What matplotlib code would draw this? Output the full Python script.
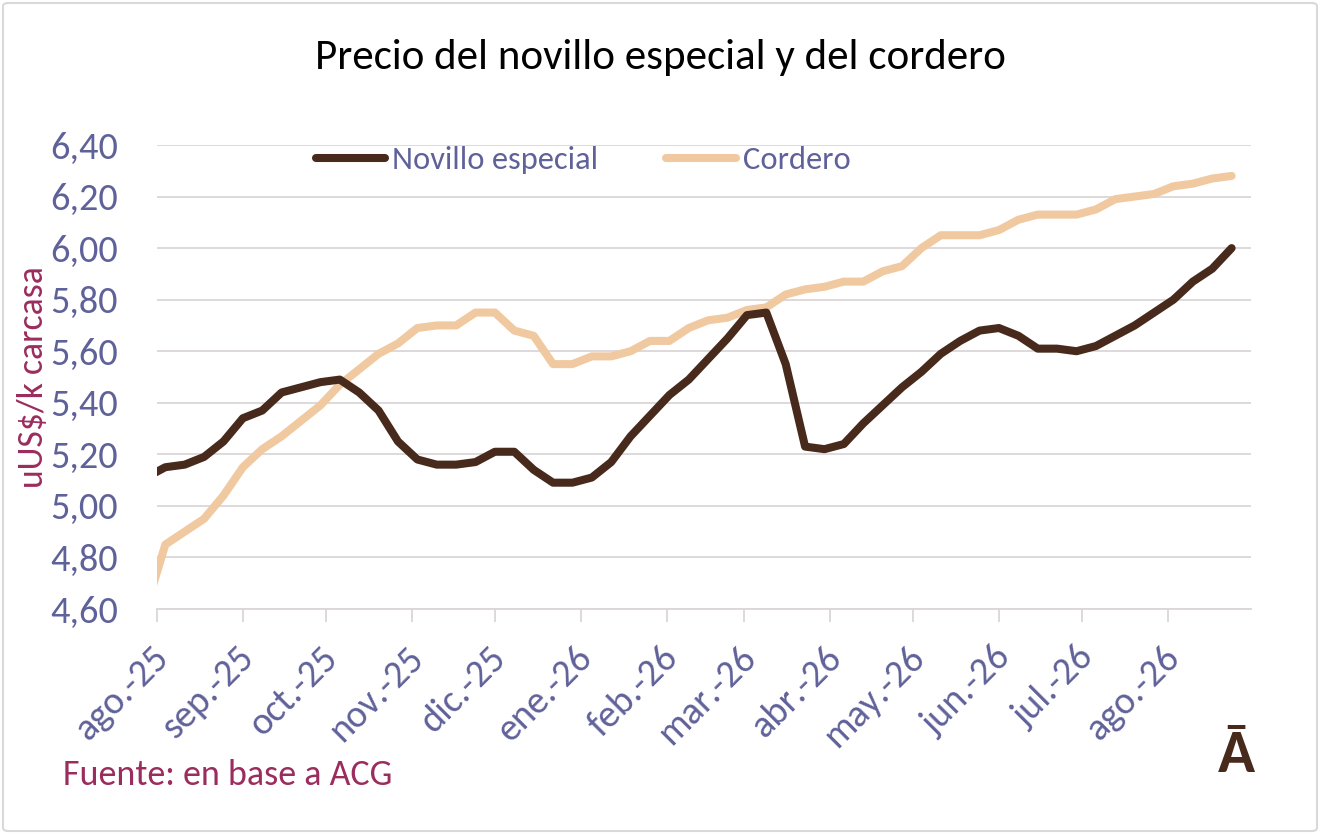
import matplotlib
matplotlib.use("Agg")
import matplotlib.pyplot as plt
from matplotlib import font_manager
from matplotlib.patches import FancyBboxPatch
from matplotlib.transforms import ScaledTranslation
import pandas as pd

# ---------------- data ----------------
title = "Precio del novillo especial y del cordero"
series_names = ["Novillo especial", "Cordero"]
week_start = "2025-07-28"
n_weeks = 57
novillo = [5.11, 5.15, 5.16, 5.19, 5.25, 5.34, 5.37, 5.44, 5.46, 5.48,
           5.49, 5.44, 5.37, 5.25, 5.18, 5.16, 5.16, 5.17, 5.21, 5.21,
           5.14, 5.09, 5.09, 5.11, 5.17, 5.27, 5.35, 5.43, 5.49, 5.57,
           5.65, 5.74, 5.75, 5.55, 5.23, 5.22, 5.24, 5.32, 5.39, 5.46,
           5.52, 5.59, 5.64, 5.68, 5.69, 5.66, 5.61, 5.61, 5.60, 5.62,
           5.66, 5.70, 5.75, 5.80, 5.87, 5.92, 6.00]
cordero = [4.60, 4.85, 4.90, 4.95, 5.04, 5.15, 5.22, 5.27, 5.33, 5.39,
           5.47, 5.53, 5.59, 5.63, 5.69, 5.70, 5.70, 5.75, 5.75, 5.68,
           5.66, 5.55, 5.55, 5.58, 5.58, 5.60, 5.64, 5.64, 5.69, 5.72,
           5.73, 5.76, 5.77, 5.82, 5.84, 5.85, 5.87, 5.87, 5.91, 5.93,
           6.00, 6.05, 6.05, 6.05, 6.07, 6.11, 6.13, 6.13, 6.13, 6.15,
           6.19, 6.20, 6.21, 6.24, 6.25, 6.27, 6.28]
month_ticks = ["2025-08-01", "2025-09-01", "2025-10-01", "2025-11-01",
               "2025-12-01", "2026-01-01", "2026-02-01", "2026-03-01",
               "2026-04-01", "2026-05-01", "2026-06-01", "2026-07-01",
               "2026-08-01"]
month_labels = ["ago.-25", "sep.-25", "oct.-25", "nov.-25", "dic.-25",
                "ene.-26", "feb.-26", "mar.-26", "abr.-26", "may.-26",
                "jun.-26", "jul.-26", "ago.-26"]
x_range = ["2025-08-01", "2026-08-31"]
y_ticks = [4.60, 4.80, 5.00, 5.20, 5.40, 5.60, 5.80, 6.00, 6.20, 6.40]
y_labels = ["4,60", "4,80", "5,00", "5,20", "5,40", "5,60", "5,80",
            "6,00", "6,20", "6,40"]
y_title = "uUS$/k carcasa"
source = "Fuente: en base a ACG"
logo = "Ā"

# ---------------- style ----------------
avail = {f.name for f in font_manager.fontManager.ttflist}
fam = next((f for f in ["Carlito", "Lato", "Open Sans"] if f in avail), "DejaVu Sans")
plt.rcParams["font.family"] = [fam, "DejaVu Sans"]

C_NOV = "#472a1b"
C_COR = "#f0c9a1"
C_TICK = "#5f6199"
C_MAROON = "#9b2c5e"
C_GRID = "#dbd6d8"

W, H = 1320, 834
fig = plt.figure(figsize=(W / 100, H / 100), dpi=100)
fig.patch.set_facecolor("white")
fig.patches.append(FancyBboxPatch((3 / W, 3 / H), 1 - 6 / W, 1 - 6 / H,
                                  boxstyle="round,pad=0,rounding_size=0.004",
                                  transform=fig.transFigure, fill=False,
                                  edgecolor="#d9d9d9", linewidth=1.5))

ax = fig.add_axes([157 / W, 1 - 609 / H, 1094 / W, 464 / H])
dates = pd.date_range(week_start, periods=n_weeks, freq="7D")
lw = 5.8
ax.plot(dates, novillo, color=C_NOV, lw=lw, solid_capstyle="round",
        solid_joinstyle="round", label=series_names[0], zorder=3)
ax.plot(dates, cordero, color=C_COR, lw=lw, solid_capstyle="round",
        solid_joinstyle="round", label=series_names[1], zorder=2)

ax.set_xlim(pd.Timestamp(x_range[0]), pd.Timestamp(x_range[1]))
ax.set_ylim(y_ticks[0], y_ticks[-1])

ax.set_yticks(y_ticks)
ax.set_yticklabels(y_labels)
ax.yaxis.grid(True, color=C_GRID, linewidth=1.3)
ax.set_axisbelow(True)
ax.tick_params(axis="y", length=0, pad=28, labelsize=27.5, labelcolor=C_TICK)

ax.set_xticks([pd.Timestamp(d) for d in month_ticks])
ax.set_xticklabels(month_labels, rotation=45, ha="right", va="center",
                   rotation_mode="anchor")
ax.tick_params(axis="x", length=9, width=1.3, color=C_GRID, pad=22,
               labelsize=27.5, labelcolor=C_TICK)
off = ScaledTranslation(6 / 100, 0, fig.dpi_scale_trans)
for lab in ax.get_xticklabels():
    lab.set_transform(lab.get_transform() + off)

for s in ["top", "right", "left"]:
    ax.spines[s].set_visible(False)
ax.spines["bottom"].set_color(C_GRID)
ax.spines["bottom"].set_linewidth(1.3)

leg = ax.legend(loc="center", bbox_to_anchor=((583 - 157) / 1094, (609 - 160) / 464),
                ncol=2, frameon=False, fontsize=23.4, handlelength=2.15,
                handletextpad=0.2, columnspacing=2.1, labelcolor=C_TICK)

fig.text(0.5, 1 - 57 / H, title, ha="center", va="center", fontsize=31,
         color="black")
fig.text(33 / W, 1 - 377 / H, y_title, rotation=90, ha="center", va="center",
         fontsize=25.7, color=C_MAROON)
fig.text(63 / W, 1 - 775 / H, source, ha="left", va="center", fontsize=25.9,
         color=C_MAROON)
fig.text(1236 / W, 1 - 755 / H, logo, ha="center", va="center", fontsize=44,
         fontweight="bold", color=C_NOV)

fig.savefig("out.png", dpi=100)
